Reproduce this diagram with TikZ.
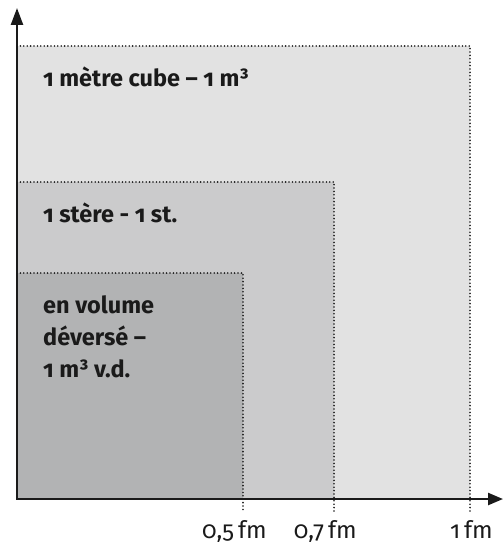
\documentclass[tikz,border=0pt]{standalone}
\usepackage{fontspec}
\setmainfont{Fira Sans}[Numbers=OldStyle]
\usetikzlibrary{arrows.meta}
\definecolor{cBig}{HTML}{E2E2E2}
\definecolor{cMid}{HTML}{CBCBCC}
\definecolor{cSmall}{HTML}{B2B3B4}
\definecolor{ink}{HTML}{1A1A1A}
\tikzset{
  dotline/.style={ink, line width=1.8pt, line cap=round, dash pattern=on 0pt off 3.4pt},
  axisline/.style={ink, line width=2.4pt, line join=miter,
    {Triangle[length=17pt,width=12pt]}-{Triangle[length=15pt,width=12pt]}},
  boxlabel/.style={anchor=base west, inner sep=0pt, text=ink, font=\fontsize{23.5}{32}\selectfont\bfseries, align=left},
  ticklabel/.style={anchor=base east, inner sep=0pt, text=ink, font=\fontsize{24}{26}\selectfont}
}
\begin{document}
\begin{tikzpicture}[x=1pt,y=-1pt]
\useasboundingbox (0,0) rectangle (503,543);
% coordinates
\coordinate (O) at (17,499);
\coordinate (ytip) at (17,8);
\coordinate (xtip) at (503,499);
\coordinate (bigTR) at (470,46);
\coordinate (midTR) at (334,182);
\coordinate (smTR) at (243,273);
\coordinate (bigB) at (470,512);
\coordinate (midB) at (334,512);
\coordinate (smB) at (243,512);
% fills
\fill[cBig] (O) rectangle (bigTR);
\fill[cMid] (O) rectangle (midTR);
\fill[cSmall] (O) rectangle (smTR);
% dotted outlines
\draw[dotline] (O |- bigTR) -- (bigTR) -- (bigB);
\draw[dotline] (O |- midTR) -- (midTR) -- (midB);
\draw[dotline] (O |- smTR) -- (smTR) -- (smB);
% axes
\draw[axisline] (ytip) |- (xtip);
% labels
\node[boxlabel] (lbig) at (43,86) {1 mètre cube – 1 m³};
\node[boxlabel] (lmid) at (43,222) {1 stère - 1 st.};
\node[boxlabel] (lsm) at (43,377) {en volume\\déversé –\\1 m³ v.d.};
\node[ticklabel] (t5) at (267,538) {0,5\,fm};
\node[ticklabel] (t7) at (357,538) {0,7\,fm};
\node[ticklabel] (t10) at (493,538) {1\,fm};
\end{tikzpicture}
\end{document}
